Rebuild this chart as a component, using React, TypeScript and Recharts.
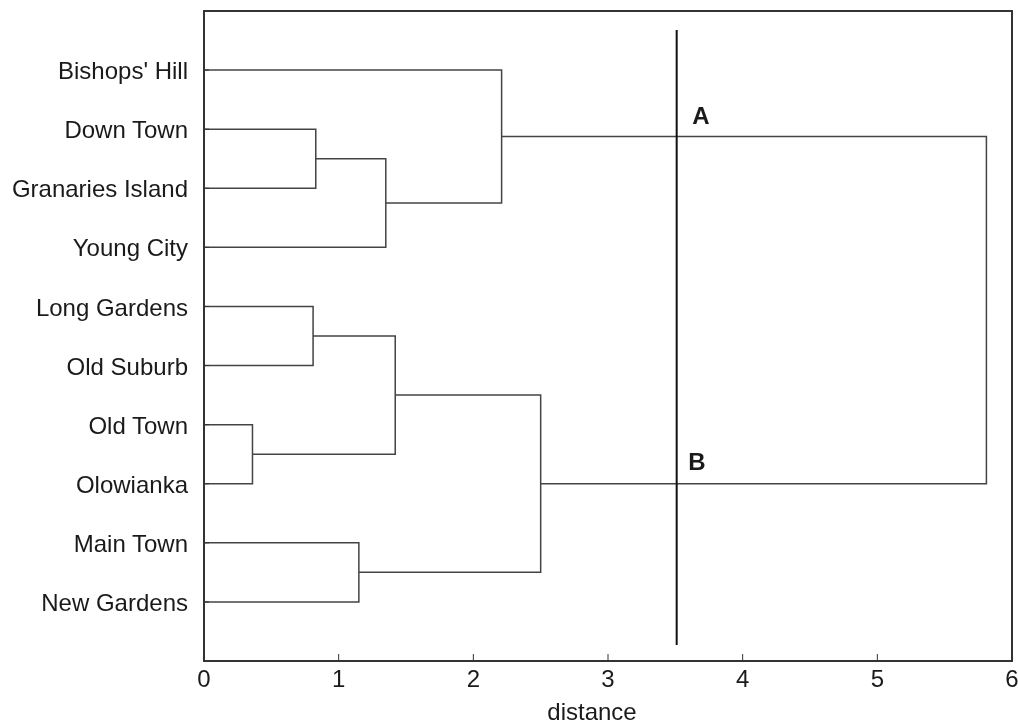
import { Label, Line, LineChart, ReferenceArea, ReferenceDot, XAxis, YAxis } from 'recharts';

// leaves, top to bottom
const leaves = [
  "Bishops' Hill",
  'Down Town',
  'Granaries Island',
  'Young City',
  'Long Gardens',
  'Old Suburb',
  'Old Town',
  'Olowianka',
  'Main Town',
  'New Gardens',
];

// merges: node ids 0-9 are leaves, merge k gets id 10 + k
const mergeLeft = [1, 10, 0, 4, 6, 13, 8, 15, 12];
const mergeRight = [2, 3, 11, 5, 7, 14, 9, 16, 17];
const mergeHeight = [0.83, 1.35, 2.21, 0.81, 0.36, 1.42, 1.15, 2.5, 5.81];

const xTicks = [0, 1, 2, 3, 4, 5, 6];
const yTicks = [1, 2, 3, 4, 5, 6, 7, 8, 9, 10];

const cutDistance = 3.51;
const cutSpan = [0.32, 10.73];
const groupLabels = ['A', 'B'];
const groupLabelX = [3.69, 3.66];
const groupLabelY = [1.76, 7.63];

const FONT = '"Liberation Sans", Arial, Helvetica, sans-serif';

// build node positions from the tree
const nodeY: number[] = leaves.map((_, i) => i + 1);
const nodeH: number[] = leaves.map(() => 0);
mergeLeft.forEach((l, k) => {
  nodeY.push((nodeY[l] + nodeY[mergeRight[k]]) / 2);
  nodeH.push(mergeHeight[k]);
});

const links = mergeLeft.map((l, k) => {
  const r = mergeRight[k];
  const h = mergeHeight[k];
  return [
    { x: nodeH[l], y: nodeY[l] },
    { x: h, y: nodeY[l] },
    { x: h, y: nodeY[r] },
    { x: nodeH[r], y: nodeY[r] },
  ];
});

const cutLine = cutSpan.map((y) => ({ x: cutDistance, y }));

function YTick(props: any) {
  const { x, y, payload } = props;
  return (
    <g>
      <text x={x} y={y} dy="0.38em" textAnchor="end" fontSize={24} fontFamily={FONT} fill="#1a1a1a">
        {leaves[payload.value - 1]}
      </text>
      <line x1={x + 16} x2={x + 21} y1={y} y2={y} stroke="#333" strokeWidth={1} />
    </g>
  );
}

function XTick(props: any) {
  const { x, y, payload } = props;
  return (
    <g>
      <line x1={x} x2={x} y1={y - 9} y2={y - 16} stroke="#333" strokeWidth={1} />
      <text x={x} y={y} dy="0.72em" textAnchor="middle" fontSize={24} fontFamily={FONT} fill="#1a1a1a">
        {payload.value}
      </text>
    </g>
  );
}

export default function App() {
  return (
    <div style={{ position: 'fixed', left: 0, top: 0 }}>
      <LineChart width={1018} height={724} margin={{ top: 11, right: 6, bottom: 0, left: 8 }}>
        <XAxis
          dataKey="x"
          type="number"
          domain={[0, 6]}
          ticks={xTicks}
          interval={0}
          allowDataOverflow
          height={63}
          tickSize={0}
          tickMargin={9}
          tick={<XTick />}
          tickLine={false}
          axisLine={{ stroke: '#333', strokeWidth: 2 }}
        >
          <Label
            value="distance"
            position="insideBottom"
            offset={4}
            dx={-16}
            style={{ fontSize: 24, fontFamily: FONT, fill: '#1a1a1a' }}
          />
        </XAxis>
        <YAxis
          dataKey="y"
          type="number"
          domain={[0, 11]}
          reversed
          ticks={yTicks}
          interval={0}
          allowDataOverflow
          width={196}
          tickSize={0}
          tickMargin={16}
          tick={<YTick />}
          tickLine={false}
          axisLine={{ stroke: '#333', strokeWidth: 2 }}
        />
        <ReferenceArea x1={0} x2={6} y1={0} y2={11} fill="none" stroke="#333" strokeWidth={2} />
        {links.map((pts, i) => (
          <Line
            key={i}
            data={pts}
            dataKey="y"
            type="linear"
            stroke="#444"
            strokeWidth={1.5}
            dot={false}
            activeDot={false}
            isAnimationActive={false}
          />
        ))}
        <Line
          data={cutLine}
          dataKey="y"
          type="linear"
          stroke="#111"
          strokeWidth={2}
          dot={false}
          activeDot={false}
          isAnimationActive={false}
        />
        {groupLabels.map((t, i) => (
          <ReferenceDot key={t} x={groupLabelX[i]} y={groupLabelY[i]} r={0} fill="none" stroke="none">
            <Label
              value={t}
              position="center"
              style={{ fontSize: 24, fontWeight: 'bold', fontFamily: FONT, fill: '#1a1a1a' }}
            />
          </ReferenceDot>
        ))}
      </LineChart>
    </div>
  );
}
